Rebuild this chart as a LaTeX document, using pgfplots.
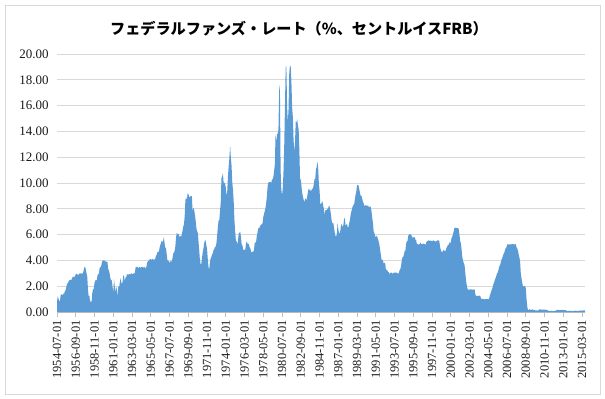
\documentclass[border=0pt]{standalone}
\usepackage{pgfplots}
\usepackage{pgfplotstable}
\pgfplotsset{compat=1.18}
\usepackage{fontspec}
\setmainfont{Liberation Serif}
\newfontfamily\cjk{Noto Sans CJK JP}
\definecolor{areac}{HTML}{5B9BD5}
\definecolor{gridc}{HTML}{D9D9D9}
\definecolor{axisc}{HTML}{BFBFBF}
\pgfplotstableread[row sep=\\]{
y\\
0.80\\ 1.22\\ 1.06\\ 0.85\\ 0.83\\ 1.28\\
1.39\\ 1.29\\ 1.35\\ 1.43\\ 1.43\\ 1.64\\ 1.68\\ 1.96\\ 2.18\\ 2.24\\ 2.35\\ 2.48\\
2.45\\ 2.50\\ 2.50\\ 2.62\\ 2.75\\ 2.71\\ 2.75\\ 2.73\\ 2.95\\ 2.96\\ 2.88\\ 2.94\\
2.84\\ 3.00\\ 2.96\\ 3.00\\ 3.00\\ 3.00\\ 2.99\\ 3.24\\ 3.47\\ 3.50\\ 3.28\\ 2.98\\
2.72\\ 1.67\\ 1.20\\ 1.26\\ 0.63\\ 0.93\\ 0.68\\ 1.53\\ 1.76\\ 1.80\\ 2.27\\ 2.42\\
2.48\\ 2.43\\ 2.80\\ 2.96\\ 2.90\\ 3.39\\ 3.47\\ 3.50\\ 3.76\\ 3.98\\ 4.00\\ 3.99\\
3.99\\ 3.97\\ 3.84\\ 3.92\\ 3.85\\ 3.32\\ 3.23\\ 2.98\\ 2.60\\ 2.47\\ 2.44\\ 1.98\\
1.45\\ 2.54\\ 2.02\\ 1.49\\ 1.98\\ 1.73\\ 1.17\\ 2.00\\ 1.88\\ 2.26\\ 2.61\\ 2.33\\
2.15\\ 2.37\\ 2.85\\ 2.78\\ 2.36\\ 2.68\\ 2.71\\ 2.93\\ 2.90\\ 2.90\\ 2.94\\ 2.93\\
2.92\\ 3.00\\ 2.98\\ 2.90\\ 3.00\\ 2.99\\ 3.02\\ 3.49\\ 3.48\\ 3.50\\ 3.48\\ 3.38\\
3.48\\ 3.48\\ 3.43\\ 3.47\\ 3.50\\ 3.50\\ 3.42\\ 3.50\\ 3.45\\ 3.36\\ 3.52\\ 3.85\\
3.90\\ 3.98\\ 4.04\\ 4.09\\ 4.10\\ 4.04\\ 4.09\\ 4.12\\ 4.01\\ 4.08\\ 4.10\\ 4.32\\
4.42\\ 4.60\\ 4.65\\ 4.67\\ 4.90\\ 5.17\\ 5.30\\ 5.53\\ 5.40\\ 5.53\\ 5.76\\ 5.40\\
4.94\\ 5.00\\ 4.53\\ 4.05\\ 3.94\\ 3.98\\ 3.79\\ 3.90\\ 3.99\\ 3.88\\ 4.13\\ 4.51\\
4.60\\ 4.71\\ 5.05\\ 5.76\\ 6.11\\ 6.07\\ 6.02\\ 6.03\\ 5.78\\ 5.91\\ 5.82\\ 6.02\\
6.30\\ 6.61\\ 6.79\\ 7.41\\ 8.67\\ 8.90\\ 8.61\\ 9.19\\ 9.15\\ 9.00\\ 8.85\\ 8.97\\
8.98\\ 8.98\\ 7.76\\ 8.10\\ 7.95\\ 7.61\\ 7.21\\ 6.61\\ 6.29\\ 6.20\\ 5.60\\ 4.90\\
4.14\\ 3.72\\ 3.71\\ 4.16\\ 4.63\\ 4.91\\ 5.31\\ 5.56\\ 5.55\\ 5.20\\ 4.91\\ 4.14\\
3.50\\ 3.29\\ 3.83\\ 4.17\\ 4.27\\ 4.46\\ 4.55\\ 4.80\\ 4.87\\ 5.04\\ 5.06\\ 5.33\\
5.94\\ 6.58\\ 7.09\\ 7.12\\ 7.84\\ 8.49\\ 10.40\\ 10.50\\ 10.78\\ 10.01\\ 10.03\\ 9.95\\
9.65\\ 8.97\\ 9.35\\ 10.51\\ 11.31\\ 11.93\\ 12.92\\ 12.01\\ 11.34\\ 10.06\\ 9.45\\ 8.53\\
7.13\\ 6.24\\ 5.54\\ 5.49\\ 5.22\\ 5.55\\ 6.10\\ 6.14\\ 6.24\\ 5.82\\ 5.22\\ 5.20\\
4.87\\ 4.77\\ 4.84\\ 4.82\\ 5.29\\ 5.48\\ 5.31\\ 5.29\\ 5.25\\ 5.02\\ 4.95\\ 4.65\\
4.61\\ 4.68\\ 4.69\\ 4.73\\ 5.35\\ 5.39\\ 5.42\\ 5.90\\ 6.14\\ 6.47\\ 6.51\\ 6.56\\
6.70\\ 6.78\\ 6.79\\ 6.89\\ 7.36\\ 7.60\\ 7.81\\ 8.04\\ 8.45\\ 8.96\\ 9.76\\ 10.03\\
10.07\\ 10.06\\ 10.09\\ 10.01\\ 10.24\\ 10.29\\ 10.47\\ 10.94\\ 11.43\\ 13.77\\ 13.18\\ 13.78\\
13.82\\ 14.13\\ 17.19\\ 17.61\\ 10.98\\ 9.47\\ 9.03\\ 9.61\\ 10.87\\ 12.81\\ 15.85\\ 18.90\\
19.08\\ 15.93\\ 14.70\\ 15.72\\ 18.52\\ 19.10\\ 19.04\\ 17.82\\ 15.87\\ 15.08\\ 13.31\\ 12.37\\
13.22\\ 14.78\\ 14.68\\ 14.94\\ 14.45\\ 14.15\\ 12.59\\ 10.12\\ 10.31\\ 9.71\\ 9.20\\ 8.95\\
8.68\\ 8.51\\ 8.77\\ 8.80\\ 8.63\\ 8.98\\ 9.37\\ 9.56\\ 9.45\\ 9.48\\ 9.34\\ 9.47\\
9.56\\ 9.59\\ 9.91\\ 10.29\\ 10.32\\ 11.06\\ 11.23\\ 11.64\\ 11.30\\ 9.99\\ 9.43\\ 8.38\\
8.35\\ 8.50\\ 8.58\\ 8.27\\ 7.97\\ 7.53\\ 7.88\\ 7.90\\ 7.92\\ 7.99\\ 8.05\\ 8.27\\
8.14\\ 7.86\\ 7.48\\ 6.99\\ 6.85\\ 6.92\\ 6.56\\ 6.17\\ 5.89\\ 5.85\\ 6.04\\ 6.91\\
6.43\\ 6.10\\ 6.13\\ 6.37\\ 6.85\\ 6.73\\ 6.58\\ 6.73\\ 7.22\\ 7.29\\ 6.69\\ 6.77\\
6.83\\ 6.58\\ 6.58\\ 6.87\\ 7.09\\ 7.51\\ 7.75\\ 8.01\\ 8.19\\ 8.30\\ 8.35\\ 8.76\\
9.12\\ 9.36\\ 9.85\\ 9.84\\ 9.81\\ 9.53\\ 9.24\\ 8.99\\ 9.02\\ 8.84\\ 8.55\\ 8.45\\
8.23\\ 8.24\\ 8.28\\ 8.26\\ 8.18\\ 8.29\\ 8.15\\ 8.13\\ 8.20\\ 8.11\\ 7.81\\ 7.31\\
6.91\\ 6.25\\ 6.12\\ 5.91\\ 5.78\\ 5.90\\ 5.82\\ 5.66\\ 5.45\\ 5.21\\ 4.81\\ 4.43\\
4.03\\ 4.06\\ 3.98\\ 3.73\\ 3.82\\ 3.76\\ 3.25\\ 3.30\\ 3.22\\ 3.10\\ 3.09\\ 2.92\\
3.02\\ 3.03\\ 3.07\\ 2.96\\ 3.00\\ 3.04\\ 3.06\\ 3.03\\ 3.09\\ 2.99\\ 3.02\\ 2.96\\
3.05\\ 3.25\\ 3.34\\ 3.56\\ 4.01\\ 4.25\\ 4.26\\ 4.47\\ 4.73\\ 4.76\\ 5.29\\ 5.45\\
5.53\\ 5.92\\ 5.98\\ 6.05\\ 6.01\\ 6.00\\ 5.85\\ 5.74\\ 5.80\\ 5.76\\ 5.80\\ 5.60\\
5.56\\ 5.22\\ 5.31\\ 5.22\\ 5.24\\ 5.27\\ 5.40\\ 5.22\\ 5.30\\ 5.24\\ 5.31\\ 5.29\\
5.25\\ 5.19\\ 5.39\\ 5.51\\ 5.50\\ 5.56\\ 5.52\\ 5.54\\ 5.54\\ 5.50\\ 5.52\\ 5.50\\
5.56\\ 5.51\\ 5.49\\ 5.45\\ 5.49\\ 5.56\\ 5.54\\ 5.55\\ 5.51\\ 5.07\\ 4.83\\ 4.68\\
4.63\\ 4.76\\ 4.81\\ 4.74\\ 4.74\\ 4.76\\ 4.99\\ 5.07\\ 5.22\\ 5.20\\ 5.42\\ 5.30\\
5.45\\ 5.73\\ 5.85\\ 6.02\\ 6.27\\ 6.53\\ 6.54\\ 6.50\\ 6.52\\ 6.51\\ 6.51\\ 6.40\\
5.98\\ 5.49\\ 5.31\\ 4.80\\ 4.21\\ 3.97\\ 3.77\\ 3.65\\ 3.07\\ 2.49\\ 2.09\\ 1.82\\
1.73\\ 1.74\\ 1.73\\ 1.75\\ 1.75\\ 1.75\\ 1.73\\ 1.74\\ 1.75\\ 1.75\\ 1.34\\ 1.24\\
1.24\\ 1.26\\ 1.25\\ 1.26\\ 1.26\\ 1.22\\ 1.01\\ 1.03\\ 1.01\\ 1.01\\ 1.00\\ 0.98\\
1.00\\ 1.01\\ 1.00\\ 1.00\\ 1.00\\ 1.03\\ 1.26\\ 1.43\\ 1.61\\ 1.76\\ 1.93\\ 2.16\\
2.28\\ 2.50\\ 2.63\\ 2.79\\ 3.00\\ 3.04\\ 3.26\\ 3.50\\ 3.62\\ 3.78\\ 4.00\\ 4.16\\
4.29\\ 4.49\\ 4.59\\ 4.79\\ 4.94\\ 4.99\\ 5.24\\ 5.25\\ 5.25\\ 5.25\\ 5.25\\ 5.24\\
5.25\\ 5.26\\ 5.26\\ 5.25\\ 5.25\\ 5.25\\ 5.26\\ 5.02\\ 4.94\\ 4.76\\ 4.49\\ 4.24\\
3.94\\ 2.98\\ 2.61\\ 2.28\\ 1.98\\ 2.00\\ 2.01\\ 2.00\\ 1.81\\ 0.97\\ 0.39\\ 0.16\\
0.15\\ 0.22\\ 0.18\\ 0.15\\ 0.18\\ 0.21\\ 0.16\\ 0.16\\ 0.15\\ 0.12\\ 0.12\\ 0.12\\
0.11\\ 0.13\\ 0.16\\ 0.20\\ 0.20\\ 0.18\\ 0.18\\ 0.19\\ 0.19\\ 0.19\\ 0.19\\ 0.18\\
0.17\\ 0.16\\ 0.14\\ 0.10\\ 0.09\\ 0.09\\ 0.07\\ 0.10\\ 0.08\\ 0.07\\ 0.08\\ 0.07\\
0.08\\ 0.10\\ 0.13\\ 0.14\\ 0.16\\ 0.16\\ 0.16\\ 0.13\\ 0.14\\ 0.16\\ 0.16\\ 0.16\\
0.14\\ 0.15\\ 0.14\\ 0.15\\ 0.11\\ 0.09\\ 0.09\\ 0.08\\ 0.08\\ 0.09\\ 0.08\\ 0.09\\
0.07\\ 0.07\\ 0.08\\ 0.09\\ 0.09\\ 0.10\\ 0.09\\ 0.09\\ 0.09\\ 0.09\\ 0.09\\ 0.12\\
0.11\\ 0.11\\ 0.11\\ 0.12\\ 0.12\\ 0.13\\ 0.13\\
}\ffdata
\begin{document}
\begin{tikzpicture}
\path[use as bounding box] (-57bp,-87bp) rectangle (548bp,312bp);
\draw[gridc, line width=0.8bp] (-52bp,-82bp) rectangle (543bp,307bp);
\begin{axis}[
  scale only axis,
  width=528bp, height=258bp,
  xmin=0, xmax=732, ymin=0, ymax=20,
  axis x line*=bottom,
  axis y line*=left,
  y axis line style={draw=none},
  x axis line style={draw=axisc, line width=0.8bp},
  ytick={0,2,...,20},
  ymajorgrids,
  grid style={draw=gridc, line width=0.8bp},
  ytick style={draw=none},
  xtick={0,26,...,728},
  xticklabels={1954-07-01,1956-09-01,1958-11-01,1961-01-01,1963-03-01,1965-05-01,1967-07-01,1969-09-01,1971-11-01,1974-01-01,1976-03-01,1978-05-01,1980-07-01,1982-09-01,1984-11-01,1987-01-01,1989-03-01,1991-05-01,1993-07-01,1995-09-01,1997-11-01,2000-01-01,2002-03-01,2004-05-01,2006-07-01,2008-09-01,2010-11-01,2013-01-01,2015-03-01},
  xtick style={draw=axisc, line width=0.8bp},
  tick align=outside,
  major tick length=5bp,
  xticklabel style={rotate=90, anchor=east, font=\fontsize{12.5}{14}\selectfont},
  yticklabel style={font=\fontsize{13}{15}\selectfont, /pgf/number format/.cd, fixed, fixed zerofill, precision=2, assume math mode=true},
  tick label style={text=black!90},
]
\addplot[fill=areac, draw=none] table[x expr=\coordindex, y=y] {\ffdata} \closedcycle;
\end{axis}
\node[font=\cjk\bfseries\fontsize{15.2}{17}\selectfont] at (242bp,283bp) {フェデラルファンズ・レート（\%、セントルイスFRB）};
\end{tikzpicture}
\end{document}
